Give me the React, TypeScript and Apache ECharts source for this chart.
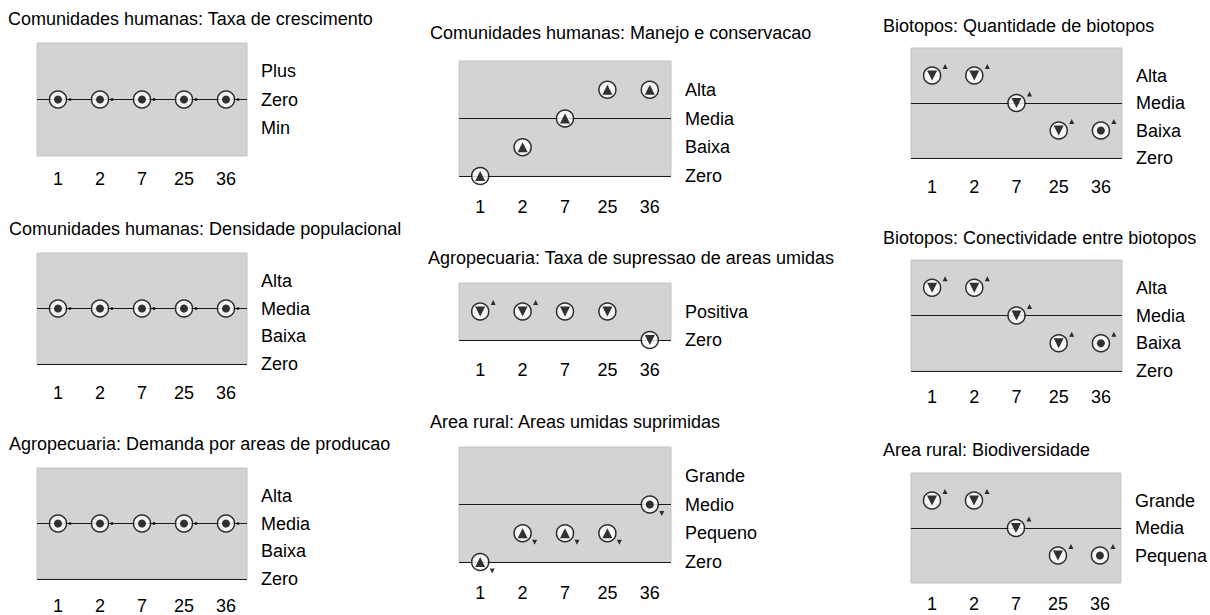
import React, { useEffect, useRef } from "react";
import * as echarts from "echarts";

// ---------- data ----------
const states = ["1", "2", "7", "25", "36"];

// Comunidades humanas: Taxa de crescimento
const taxaCrescLevels = ["Min", "Zero", "Plus"];
const taxaCrescLines = ["Zero"];
const taxaCrescValues = ["Zero", "Zero", "Zero", "Zero", "Zero"];
const taxaCrescDeriv = [0, 0, 0, 0, 0];
const taxaCrescDeriv2 = [0, 0, 0, 0, 0];

// Comunidades humanas: Densidade populacional
const densidadeLevels = ["Zero", "Baixa", "Media", "Alta"];
const densidadeLines = ["Zero", "Media"];
const densidadeValues = ["Media", "Media", "Media", "Media", "Media"];
const densidadeDeriv = [0, 0, 0, 0, 0];
const densidadeDeriv2 = [0, 0, 0, 0, 0];

// Agropecuaria: Demanda por areas de producao
const demandaLevels = ["Zero", "Baixa", "Media", "Alta"];
const demandaLines = ["Zero", "Media"];
const demandaValues = ["Media", "Media", "Media", "Media", "Media"];
const demandaDeriv = [0, 0, 0, 0, 0];
const demandaDeriv2 = [0, 0, 0, 0, 0];

// Comunidades humanas: Manejo e conservacao
const manejoLevels = ["Zero", "Baixa", "Media", "Alta"];
const manejoLines = ["Zero", "Media"];
const manejoValues = ["Zero", "Baixa", "Media", "Alta", "Alta"];
const manejoDeriv = [1, 1, 1, 1, 1];
const manejoDeriv2 = [null, null, null, null, null];

// Agropecuaria: Taxa de supressao de areas umidas
const supressaoLevels = ["Zero", "Positiva"];
const supressaoLines = ["Zero"];
const supressaoValues = ["Positiva", "Positiva", "Positiva", "Positiva", "Zero"];
const supressaoDeriv = [-1, -1, -1, -1, -1];
const supressaoDeriv2 = [1, 1, null, null, null];

// Area rural: Areas umidas suprimidas
const suprimidasLevels = ["Zero", "Pequeno", "Medio", "Grande"];
const suprimidasLines = ["Zero", "Medio"];
const suprimidasValues = ["Zero", "Pequeno", "Pequeno", "Pequeno", "Medio"];
const suprimidasDeriv = [1, 1, 1, 1, 0];
const suprimidasDeriv2 = [-1, -1, -1, -1, -1];

// Biotopos: Quantidade de biotopos
const quantidadeLevels = ["Zero", "Baixa", "Media", "Alta"];
const quantidadeLines = ["Zero", "Media"];
const quantidadeValues = ["Alta", "Alta", "Media", "Baixa", "Baixa"];
const quantidadeDeriv = [-1, -1, -1, -1, 0];
const quantidadeDeriv2 = [1, 1, 1, 1, 1];

// Biotopos: Conectividade entre biotopos
const conectividadeLevels = ["Zero", "Baixa", "Media", "Alta"];
const conectividadeLines = ["Zero", "Media"];
const conectividadeValues = ["Alta", "Alta", "Media", "Baixa", "Baixa"];
const conectividadeDeriv = [-1, -1, -1, -1, 0];
const conectividadeDeriv2 = [1, 1, 1, 1, 1];

// Area rural: Biodiversidade
const biodivLevels = ["Pequena", "Media", "Grande"];
const biodivLines = ["Media"];
const biodivValues = ["Grande", "Grande", "Media", "Pequena", "Pequena"];
const biodivDeriv = [-1, -1, -1, -1, 0];
const biodivDeriv2 = [1, 1, 1, 1, 1];

const panels = [
  { title: "Comunidades humanas: Taxa de crescimento", levels: taxaCrescLevels, lines: taxaCrescLines, values: taxaCrescValues, deriv: taxaCrescDeriv, deriv2: taxaCrescDeriv2 },
  { title: "Comunidades humanas: Densidade populacional", levels: densidadeLevels, lines: densidadeLines, values: densidadeValues, deriv: densidadeDeriv, deriv2: densidadeDeriv2 },
  { title: "Agropecuaria: Demanda por areas de producao", levels: demandaLevels, lines: demandaLines, values: demandaValues, deriv: demandaDeriv, deriv2: demandaDeriv2 },
  { title: "Comunidades humanas: Manejo e conservacao", levels: manejoLevels, lines: manejoLines, values: manejoValues, deriv: manejoDeriv, deriv2: manejoDeriv2 },
  { title: "Agropecuaria: Taxa de supressao de areas umidas", levels: supressaoLevels, lines: supressaoLines, values: supressaoValues, deriv: supressaoDeriv, deriv2: supressaoDeriv2 },
  { title: "Area rural: Areas umidas suprimidas", levels: suprimidasLevels, lines: suprimidasLines, values: suprimidasValues, deriv: suprimidasDeriv, deriv2: suprimidasDeriv2 },
  { title: "Biotopos: Quantidade de biotopos", levels: quantidadeLevels, lines: quantidadeLines, values: quantidadeValues, deriv: quantidadeDeriv, deriv2: quantidadeDeriv2 },
  { title: "Biotopos: Conectividade entre biotopos", levels: conectividadeLevels, lines: conectividadeLines, values: conectividadeValues, deriv: conectividadeDeriv, deriv2: conectividadeDeriv2 },
  { title: "Area rural: Biodiversidade", levels: biodivLevels, lines: biodivLines, values: biodivValues, deriv: biodivDeriv, deriv2: biodivDeriv2 },
];

// ---------- layout (pixels) ----------
const layout = [
  { left: 37, top: 43, width: 210, height: 113, titleX: 8, titleY: 20, tickY: 180 },
  { left: 37, top: 253, width: 210, height: 111, titleX: 9, titleY: 230, tickY: 394 },
  { left: 37, top: 468, width: 210, height: 112, titleX: 9, titleY: 445, tickY: 608 },
  { left: 459, top: 61, width: 212, height: 115, titleX: 430, titleY: 34, tickY: 208 },
  { left: 459, top: 283, width: 212, height: 57, titleX: 428, titleY: 259, tickY: 371 },
  { left: 459, top: 447, width: 212, height: 115, titleX: 430, titleY: 423, tickY: 594 },
  { left: 911, top: 48, width: 211, height: 110, titleX: 883, titleY: 27, tickY: 188 },
  { left: 911, top: 260, width: 211, height: 111, titleX: 883, titleY: 239, tickY: 398 },
  { left: 911, top: 473, width: 211, height: 110, titleX: 883, titleY: 451, tickY: 605 },
];

const FONT = '"Liberation Sans", Arial, Helvetica, sans-serif';
const FS = 18;

function buildOption() {
  const title: any[] = [];
  const grid: any[] = [];
  const xAxis: any[] = [];
  const yAxis: any[] = [];
  const series: any[] = [];

  panels.forEach((p, i) => {
    const L = layout[i];
    const minV = p.levels[0] === "Zero" ? 0 : -1;
    const maxV = p.levels.length;
    const yOf = (name: string) => p.levels.indexOf(name);

    title.push({
      text: p.title,
      left: L.titleX,
      top: L.titleY - FS / 2 - 1,
      padding: 0,
      textStyle: { fontFamily: FONT, fontSize: FS, fontWeight: "normal", color: "#000" },
    });
    grid.push({
      left: L.left,
      top: L.top,
      width: L.width,
      height: L.height,
      show: true,
      backgroundColor: "#d3d3d3",
      borderColor: "#c4c4c4",
      borderWidth: 1,
    });
    xAxis.push({
      type: "category",
      gridIndex: i,
      data: states,
      boundaryGap: true,
      axisLine: { show: false },
      axisTick: { show: false },
      splitLine: { show: false },
      axisLabel: {
        color: "#000",
        fontFamily: FONT,
        fontSize: FS,
        margin: L.tickY - (L.top + L.height) - 10,
      },
    });
    yAxis.push({
      type: "value",
      gridIndex: i,
      position: "right",
      min: minV,
      max: maxV,
      interval: 1,
      axisLine: { show: false },
      axisTick: { show: false },
      splitLine: { show: false },
      axisLabel: {
        color: "#000",
        fontFamily: FONT,
        fontSize: FS,
        margin: 14,
        align: "left",
        formatter: (v: number) => p.levels[v] ?? "",
      },
    });

    const pts = p.values.map((v, k) => [states[k], yOf(v)]);

    // landmark lines
    series.push({
      type: "line",
      xAxisIndex: i,
      yAxisIndex: i,
      data: pts,
      symbol: "none",
      lineStyle: { opacity: 0, width: 0 },
      silent: true,
      z: 1,
      markLine: {
        silent: true,
        z: 1,
        symbol: ["none", "none"],
        label: { show: false },
        lineStyle: { color: "#1a1a1a", width: 1, type: "solid" },
        data: p.lines.map((l) => ({ yAxis: yOf(l) })),
      },
    });

    // outer white circles
    series.push({
      type: "scatter",
      xAxisIndex: i,
      yAxisIndex: i,
      data: pts,
      symbol: "circle",
      symbolSize: 17,
      silent: true,
      z: 10,
      itemStyle: { color: "#fff", borderColor: "#000", borderWidth: 1.5 },
    });

    // inner derivative symbol
    series.push({
      type: "scatter",
      xAxisIndex: i,
      yAxisIndex: i,
      silent: true,
      z: 11,
      itemStyle: { color: "#000" },
      data: pts.map((pt, k) => {
        const d = p.deriv[k];
        return {
          value: pt,
          symbol: d === 0 ? "circle" : "triangle",
          symbolSize: d === 0 ? 8 : [10, 10],
          symbolRotate: d < 0 ? 180 : 0,
        };
      }),
    });

    // second derivative marks
    const d2data: any[] = [];
    pts.forEach((pt, k) => {
      const dd = p.deriv2[k];
      if (dd === null || dd === undefined) return;
      d2data.push({
        value: pt,
        symbol: dd === 0 ? "circle" : "triangle",
        symbolSize: dd === 0 ? 3 : [5, 5],
        symbolOffset: dd === 0 ? [12, 0] : dd > 0 ? [13, -9] : [12, 9],
        symbolRotate: dd < 0 ? 180 : 0,
      });
    });
    series.push({
      type: "scatter",
      xAxisIndex: i,
      yAxisIndex: i,
      silent: true,
      z: 9,
      itemStyle: { color: "#000" },
      data: d2data,
    });
  });

  return {
    animation: false,
    backgroundColor: "#fff",
    textStyle: { fontFamily: FONT },
    title,
    grid,
    xAxis,
    yAxis,
    series,
  };
}

export default function App() {
  const ref = useRef<HTMLDivElement>(null);
  useEffect(() => {
    if (!ref.current) return;
    const chart = echarts.init(ref.current, undefined, { renderer: "svg" });
    chart.setOption(buildOption() as any);
    return () => chart.dispose();
  }, []);
  return (
    <div
      ref={ref}
      style={{ position: "absolute", left: 0, top: 0, width: 1210, height: 615 }}
    />
  );
}
